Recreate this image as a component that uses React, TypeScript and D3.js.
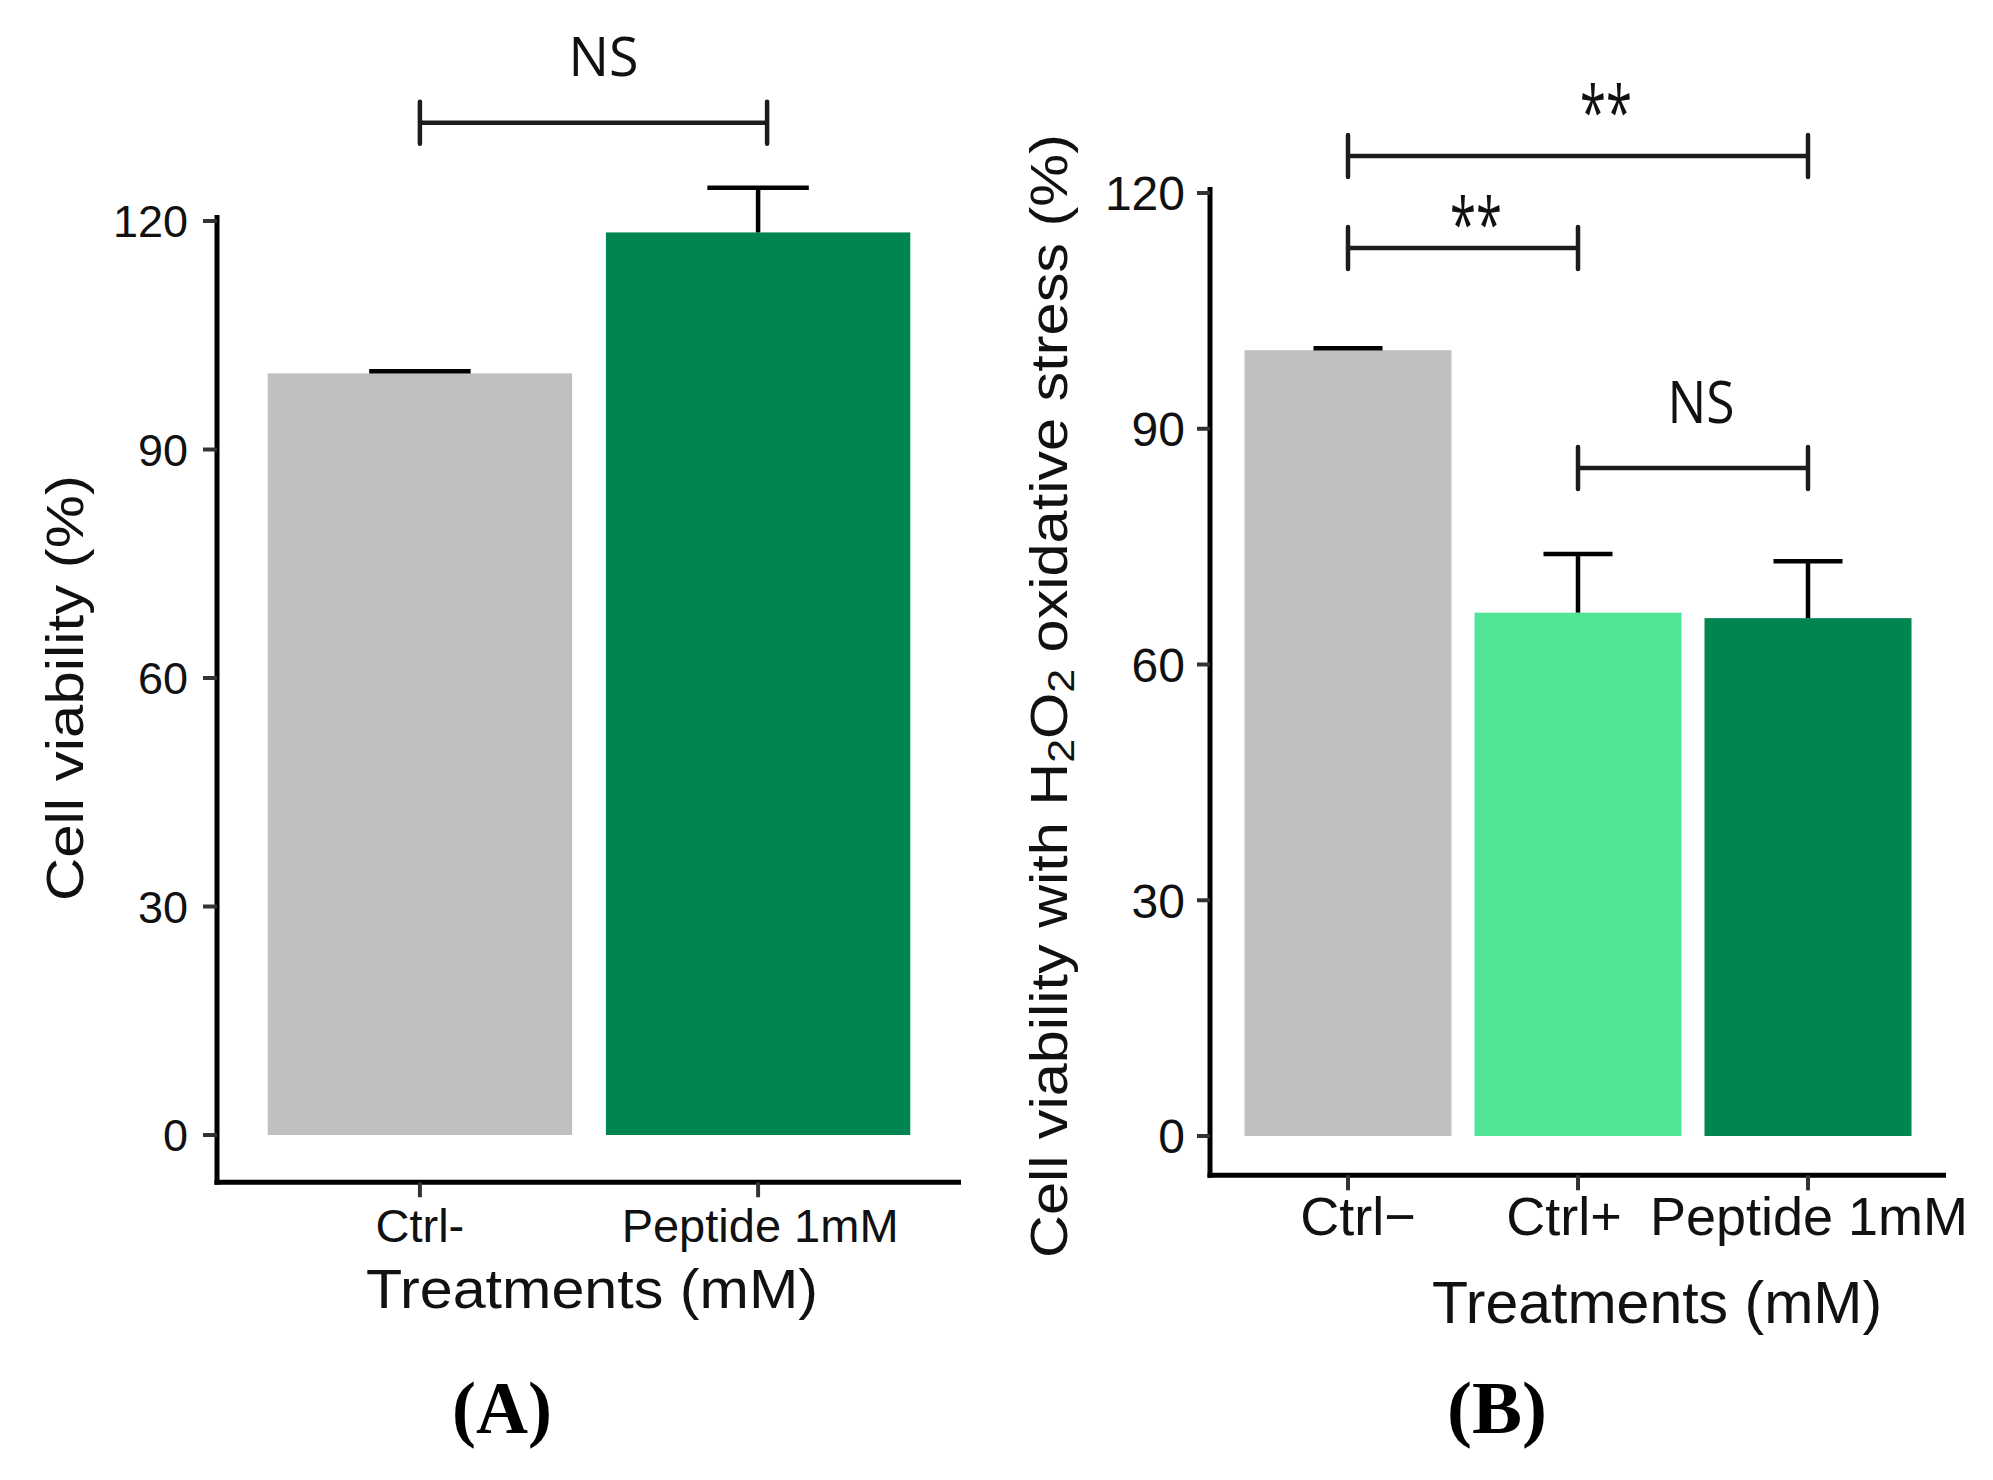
import React, { useEffect, useRef } from 'react';
import * as d3 from 'd3';

// Panel A: cell viability
const catsA = ['Ctrl-', 'Peptide 1mM'];
const meansA = [100, 118.5];
const sdA = [0, 5.6];
const colorsA = ['#C0C0C0', '#008450'];

// Panel B: viability under H2O2 stress
const catsB = ['Ctrl\u2212', 'Ctrl+', 'Peptide 1mM'];
const meansB = [100, 66.6, 65.9];
const sdB = [0, 7.2, 7.0];
const colorsB = ['#C0C0C0', '#53E597', '#008450'];

const yTicks = [0, 30, 60, 90, 120];

interface Comparison {
  from: string;
  to: string;
  level: number;
  label: string;
}

const compsA: Comparison[] = [
  { from: 'Ctrl-', to: 'Peptide 1mM', level: 132.9, label: 'NS' },
];
const compsB: Comparison[] = [
  { from: 'Ctrl\u2212', to: 'Peptide 1mM', level: 124.7, label: '**' },
  { from: 'Ctrl\u2212', to: 'Ctrl+', level: 113, label: '**' },
  { from: 'Ctrl+', to: 'Peptide 1mM', level: 85.0, label: 'NS' },
];

const SANS = "'Liberation Sans', Arial, sans-serif";

const App: React.FC = () => {
  const ref = useRef<SVGSVGElement>(null);

  useEffect(() => {
    if (!ref.current) return;
    const svg = d3.select(ref.current);
    svg.selectAll('*').remove();

    const drawPanel = (opts: {
      cats: string[];
      means: number[];
      sds: number[];
      colors: string[];
      comps: Comparison[];
      xRange: [number, number];
      yRange: [number, number];
      tickFont: number;
      tickLen: number;
      tickGap: number;
      xLabelFont: number;
      xLabelDy: number;
      xLabelDx: number[];
      xTitle: { dx: number; y: number; size: number; len?: number };
      yTitle: { x: number; y: number; size: number; len: number; h2o2: boolean };
      labelOffsets: { dx: number; dy: number; size: number; len: number }[];
      bracketEndDx: number;
      panelLabel: { text: string; x: number };
    }) => {
      const g = svg.append('g');
      const x = d3.scaleBand<string>()
        .domain(opts.cats)
        .range(opts.xRange)
        .paddingInner(0.1)
        .paddingOuter(0.15);
      const y = d3.scaleLinear().domain([0, 120]).range(opts.yRange);

      const maxTop = d3.max(opts.means.map((m, i) => m + opts.sds[i])) as number;
      const axisY = y(-0.05 * maxTop);
      const axisX = opts.xRange[0];

      // bars
      g.selectAll('.bar')
        .data(opts.cats)
        .enter()
        .append('rect')
        .attr('x', d => x(d)!)
        .attr('width', x.bandwidth())
        .attr('y', (d, i) => y(opts.means[i]))
        .attr('height', (d, i) => y(0) - y(opts.means[i]))
        .style('fill', (d, i) => opts.colors[i]);

      // error bars (upper only)
      const cap = x.bandwidth() / 3;
      opts.cats.forEach((c, i) => {
        const cx = x(c)! + x.bandwidth() / 2;
        const top = y(opts.means[i] + opts.sds[i]);
        if (opts.sds[i] > 0) {
          g.append('line')
            .attr('x1', cx).attr('x2', cx)
            .attr('y1', y(opts.means[i])).attr('y2', top)
            .style('stroke', '#000').style('stroke-width', 4.5);
        }
        g.append('line')
          .attr('x1', cx - cap / 2).attr('x2', cx + cap / 2)
          .attr('y1', top - 2).attr('y2', top - 2)
          .style('stroke', '#000').style('stroke-width', 4.5);
      });

      // y axis
      g.append('line')
        .attr('x1', axisX).attr('x2', axisX)
        .attr('y1', y(120) - 6).attr('y2', axisY + 2.5)
        .style('stroke', '#000').style('stroke-width', 5);
      yTicks.forEach(t => {
        g.append('line')
          .attr('x1', axisX - opts.tickLen).attr('x2', axisX)
          .attr('y1', y(t)).attr('y2', y(t))
          .style('stroke', '#333').style('stroke-width', 4);
        g.append('text')
          .attr('x', axisX - opts.tickLen - opts.tickGap)
          .attr('y', y(t))
          .attr('dy', '0.36em')
          .attr('text-anchor', 'end')
          .style('font-family', SANS)
          .style('font-size', `${opts.tickFont}px`)
          .style('fill', '#111')
          .text(String(t));
      });

      // x axis
      g.append('line')
        .attr('x1', axisX - 2.5).attr('x2', opts.xRange[1])
        .attr('y1', axisY).attr('y2', axisY)
        .style('stroke', '#000').style('stroke-width', 5);
      opts.cats.forEach((c, i) => {
        const cx = x(c)! + x.bandwidth() / 2;
        g.append('line')
          .attr('x1', cx).attr('x2', cx)
          .attr('y1', axisY).attr('y2', axisY + 15)
          .style('stroke', '#333').style('stroke-width', 4);
        g.append('text')
          .attr('x', cx + opts.xLabelDx[i])
          .attr('y', axisY + opts.xLabelDy)
          .attr('text-anchor', 'middle')
          .style('font-family', SANS)
          .style('font-size', `${opts.xLabelFont}px`)
          .style('fill', '#111')
          .text(c);
      });

      // axis titles
      const midX = (opts.xRange[0] + opts.xRange[1]) / 2;
      const xt = g.append('text')
        .attr('x', midX + opts.xTitle.dx)
        .attr('y', opts.xTitle.y)
        .attr('text-anchor', 'middle')
        .style('font-family', SANS)
        .style('font-size', `${opts.xTitle.size}px`)
        .style('fill', '#111')
        .text('Treatments (mM)');
      if (opts.xTitle.len) {
        xt.attr('textLength', opts.xTitle.len).attr('lengthAdjust', 'spacingAndGlyphs');
      }

      const yt = g.append('text')
        .attr('transform', `translate(${opts.yTitle.x},${opts.yTitle.y}) rotate(-90)`)
        .attr('text-anchor', 'middle')
        .attr('textLength', opts.yTitle.len)
        .attr('lengthAdjust', 'spacingAndGlyphs')
        .style('font-family', SANS)
        .style('font-size', `${opts.yTitle.size}px`)
        .style('fill', '#111');
      if (opts.yTitle.h2o2) {
        yt.append('tspan').text('Cell viability with H');
        yt.append('tspan').attr('dy', 7).style('font-size', `${opts.yTitle.size * 0.72}px`).text('2');
        yt.append('tspan').attr('dy', -7).text('O');
        yt.append('tspan').attr('dy', 7).style('font-size', `${opts.yTitle.size * 0.72}px`).text('2');
        yt.append('tspan').attr('dy', -7).text(' oxidative stress (%)');
      } else {
        yt.text('Cell viability (%)');
      }

      // significance brackets
      opts.comps.forEach((cmp, i) => {
        const x1 = x(cmp.from)! + x.bandwidth() / 2;
        const x2 = x(cmp.to)! + x.bandwidth() / 2 + opts.bracketEndDx;
        const by = y(cmp.level);
        const col = '#1c1c1c';
        g.append('line')
          .attr('x1', x1).attr('x2', x2).attr('y1', by).attr('y2', by)
          .style('stroke', col).style('stroke-width', 4.5);
        [x1, x2].forEach(xx => {
          g.append('line')
            .attr('x1', xx).attr('x2', xx).attr('y1', by - 21).attr('y2', by + 21)
            .style('stroke', col).style('stroke-width', 4.5)
            .style('stroke-linecap', 'round');
        });
        const o = opts.labelOffsets[i];
        g.append('text')
          .attr('x', (x1 + x2) / 2 + o.dx)
          .attr('y', by + o.dy)
          .attr('text-anchor', 'middle')
          .attr('textLength', o.len)
          .attr('lengthAdjust', 'spacingAndGlyphs')
          .style('font-family', "'Open Sans', 'Noto Sans', sans-serif")
          .style('font-size', `${o.size}px`)
          .style('fill', '#111')
          .text(cmp.label);
      });

      // panel label
      svg.append('text')
        .attr('x', opts.panelLabel.x)
        .attr('y', 1433)
        .attr('text-anchor', 'middle')
        .attr('textLength', 100)
        .attr('lengthAdjust', 'spacingAndGlyphs')
        .style('font-family', "'Liberation Serif', 'Times New Roman', serif")
        .style('font-weight', 'bold')
        .style('font-size', '75px')
        .style('fill', '#000')
        .text(opts.panelLabel.text);
    };

    drawPanel({
      cats: catsA, means: meansA, sds: sdA, colors: colorsA, comps: compsA,
      xRange: [217, 961], yRange: [1135, 221],
      tickFont: 45, tickLen: 14, tickGap: 15,
      xLabelFont: 47, xLabelDy: 60, xLabelDx: [0, 2],
      xTitle: { dx: 3, y: 1308, size: 55, len: 452 },
      yTitle: { x: 83, y: 688, size: 52, len: 426, h2o2: false },
      labelOffsets: [{ dx: 10, dy: -47, size: 54, len: 70 }],
      bracketEndDx: 9,
      panelLabel: { text: '(A)', x: 502 },
    });

    drawPanel({
      cats: catsB, means: meansB, sds: sdB, colors: colorsB, comps: compsB,
      xRange: [1210, 1946], yRange: [1136, 193],
      tickFont: 48, tickLen: 13, tickGap: 12,
      xLabelFont: 54, xLabelDy: 60, xLabelDx: [10, -14, 1],
      xTitle: { dx: 79, y: 1323, size: 59 },
      yTitle: { x: 1067, y: 696, size: 51, len: 1124, h2o2: true },
      labelOffsets: [
        { dx: 28, dy: -17, size: 74, len: 52 },
        { dx: 13, dy: 3, size: 74, len: 52 },
        { dx: 8, dy: -45, size: 58, len: 67 },
      ],
      bracketEndDx: 0,
      panelLabel: { text: '(B)', x: 1497 },
    });
  }, []);

  return (
    <div style={{ position: 'absolute', left: 0, top: 0 }}>
      <svg ref={ref} width={1993} height={1480} style={{ display: 'block', background: '#fff' }} />
    </div>
  );
};

export default App;
